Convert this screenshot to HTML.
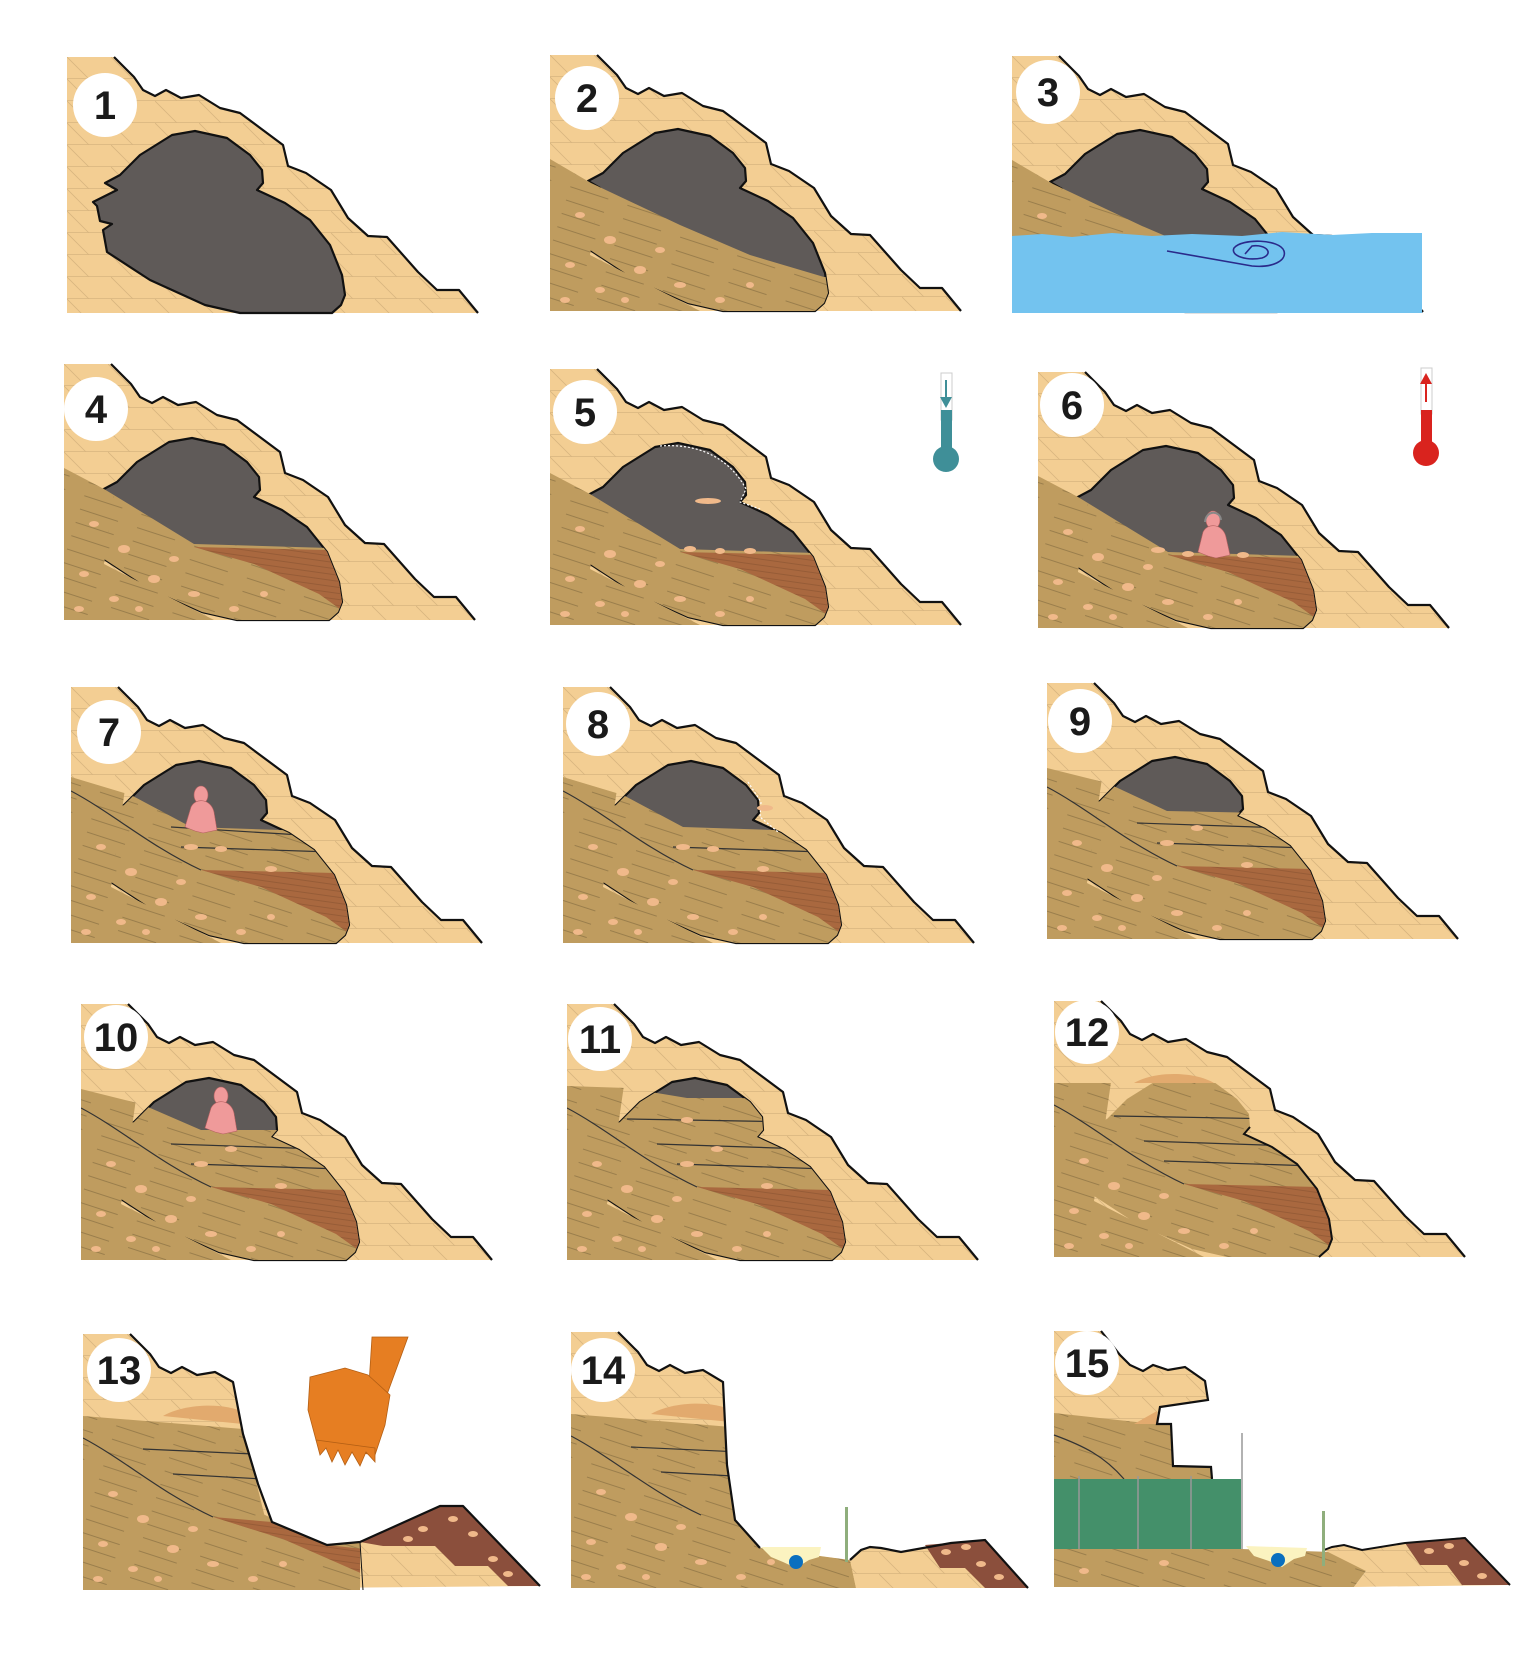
<!DOCTYPE html>
<html><head><meta charset="utf-8"><style>
html,body{margin:0;padding:0;background:#fff;}
svg{display:block;}
text{font-family:"Liberation Sans",sans-serif;font-weight:bold;font-size:40px;fill:#1a1a1a;}
</style></head><body>
<svg width="1519" height="1667" viewBox="0 0 1519 1667" xmlns="http://www.w3.org/2000/svg">
<defs>
<pattern id="ss" width="44" height="22" patternUnits="userSpaceOnUse">
<rect width="44" height="22" fill="#f3ce93"/>
<line x1="0" y1="21.5" x2="44" y2="21.5" stroke="#d8b57f" stroke-width="0.8"/>
<line x1="0" y1="0" x2="22" y2="22" stroke="#d8b57f" stroke-width="0.8"/>
</pattern>
<pattern id="sd" width="60" height="14" patternUnits="userSpaceOnUse" patternTransform="rotate(18)">
<rect width="60" height="14" fill="#bf9c5f"/>
<line x1="0" y1="7" x2="40" y2="7" stroke="#8e7446" stroke-width="0.7"/>
</pattern>
<pattern id="rd" width="40" height="6" patternUnits="userSpaceOnUse" patternTransform="rotate(8)">
<rect width="40" height="6" fill="#a9683f"/>
<line x1="0" y1="3" x2="40" y2="3" stroke="#84502f" stroke-width="0.6"/>
</pattern>
<g id="hill">
<polygon points="0,0 47,0 67,20 76,33 88,39 99,33 114,41 132,38 153,51 173,56 216,88 221,109 239,116 264,133 281,161 301,179 320,180 351,215 370,233 392,233 411,256 0,256" fill="url(#ss)"/>
</g>
<polyline id="hillo" points="47,0 67,20 76,33 88,39 99,33 114,41 132,38 153,51 173,56 216,88 221,109 239,116 264,133 281,161 301,179 320,180 351,215 370,233 392,233 411,256" fill="none" stroke="#111" stroke-width="2.2" stroke-linejoin="round"/>
<polygon id="cave" points="105,78 128,74 160,81 183,98 195,113 196,126 190,133 218,146 243,163 263,188 275,218 278,238 274,248 265,256 173,256 138,248 83,223 40,195 36,173 45,167 33,164 30,149 26,145 50,133 38,126 53,118 73,98" fill="#5f5a58" stroke="#111" stroke-width="2.2" stroke-linejoin="round"/>
<clipPath id="fc">
<polygon points="105,78 128,74 160,81 183,98 195,113 196,126 190,133 218,146 243,163 263,188 275,218 278,238 274,248 265,256 173,256 138,248 83,223 40,195 36,173 45,167 33,164 30,149 26,145 50,133 38,126 53,118 73,98"/>
<polygon points="0,0 60,60 50,130 40,200 150,256 0,256"/>
</clipPath>
<g id="peb" fill="#f0b98a">
<ellipse cx="30" cy="160" rx="5" ry="3"/><ellipse cx="60" cy="185" rx="6" ry="4"/><ellipse cx="20" cy="210" rx="5" ry="3"/>
<ellipse cx="90" cy="215" rx="6" ry="4"/><ellipse cx="50" cy="235" rx="5" ry="3"/><ellipse cx="130" cy="230" rx="6" ry="3"/>
<ellipse cx="110" cy="195" rx="5" ry="3"/><ellipse cx="15" cy="245" rx="5" ry="3"/><ellipse cx="170" cy="245" rx="5" ry="3"/>
<ellipse cx="200" cy="230" rx="4" ry="3"/><ellipse cx="75" cy="245" rx="4" ry="3"/>
</g>
</defs>

<!-- P1 -->
<g transform="translate(67,57)">
<use href="#hill"/><use href="#cave"/><use href="#hillo"/>
<circle cx="38" cy="48" r="32" fill="#fff"/><text x="38" y="62" text-anchor="middle">1</text>
</g>
<!-- P2 -->
<g transform="translate(550,55)">
<use href="#hill"/><use href="#cave"/>
<g clip-path="url(#fc)"><polygon points="0,104 41,128 130,170 200,200 274,222 411,222 411,256 0,256" fill="url(#sd)"/><use href="#peb"/></g>
<use href="#hillo"/>
<circle cx="37" cy="43" r="32" fill="#fff"/><text x="37" y="57" text-anchor="middle">2</text>
</g>
<!-- P3 -->
<g transform="translate(1012,56)">
<use href="#hill"/><use href="#cave"/>
<g clip-path="url(#fc)"><polygon points="0,104 41,128 130,170 200,200 274,222 411,222 411,256 0,256" fill="url(#sd)"/><use href="#peb"/></g>
<use href="#hillo"/>
<path d="M0,180 L30,178 60,181 100,177 140,180 180,178 230,180 270,176 320,179 360,177 410,177 L410,257 0,257Z" fill="#73c3ef"/>
<path d="M155,195 L240,210 C260,212 275,205 272,195 C268,183 230,182 222,192 C218,200 235,205 250,202 C262,198 255,188 240,190 L233,198" fill="none" stroke="#2a2a8a" stroke-width="1.6"/>
<circle cx="36" cy="36" r="32" fill="#fff"/><text x="36" y="50" text-anchor="middle">3</text>
</g>
<!-- P4 -->
<g transform="translate(64,364)">
<use href="#hill"/><use href="#cave"/>
<g clip-path="url(#fc)"><polygon points="0,104 40,125 130,180 265,184 411,184 411,256 0,256" fill="url(#sd)"/>
<polygon points="130,183 265,186 278,215 280,248 255,230 190,200" fill="url(#rd)"/><use href="#peb"/></g>
<use href="#hillo"/>
<circle cx="32" cy="45" r="32" fill="#fff"/><text x="32" y="59" text-anchor="middle">4</text>
</g>
<!-- P5 -->
<g transform="translate(550,369)">
<use href="#hill"/><use href="#cave"/>
<g clip-path="url(#fc)"><polygon points="0,104 40,125 130,180 265,184 411,184 411,256 0,256" fill="url(#sd)"/>
<polygon points="130,183 265,186 278,215 280,248 255,230 190,200" fill="url(#rd)"/><use href="#peb"/>
<g fill="#f0b98a"><ellipse cx="140" cy="180" rx="6" ry="3"/><ellipse cx="170" cy="182" rx="5" ry="3"/><ellipse cx="200" cy="182" rx="6" ry="3"/></g></g>
<use href="#hillo"/>
<path d="M110,77 C150,74 180,90 196,120 L190,133 210,140" fill="none" stroke="#fff" stroke-width="1.2" stroke-dasharray="2,2"/>
<ellipse cx="158" cy="132" rx="13" ry="3" fill="#f0b98a"/>
<circle cx="35" cy="43" r="32" fill="#fff"/><text x="35" y="57" text-anchor="middle">5</text>
</g>
<rect x="941" y="373" width="11" height="47" fill="#fff" stroke="#ccc" stroke-width="1"/>
<rect x="941" y="410" width="11" height="42" fill="#3f8f98"/>
<circle cx="946" cy="459" r="13" fill="#3f8f98"/>
<polygon points="940,397 952,397 946,408" fill="#3f8f98"/><line x1="946" y1="380" x2="946" y2="398" stroke="#3f8f98" stroke-width="2"/>
<!-- P6 -->
<g transform="translate(1038,372)">
<use href="#hill"/><use href="#cave"/>
<g clip-path="url(#fc)"><polygon points="0,104 40,125 130,180 265,184 411,184 411,256 0,256" fill="url(#sd)"/>
<polygon points="130,183 265,186 278,215 280,248 255,230 190,200" fill="url(#rd)"/><use href="#peb"/>
<g fill="#f0b98a"><ellipse cx="120" cy="178" rx="7" ry="3"/><ellipse cx="150" cy="182" rx="6" ry="3"/><ellipse cx="205" cy="183" rx="6" ry="3"/></g></g>
<use href="#hillo"/>
<g fill="#ef9a9a" stroke="#b36060" stroke-width="0.6"><ellipse cx="175" cy="148" rx="7" ry="9"/><path d="M165,160 C170,150 185,152 188,165 L192,183 178,186 170,184 160,180 Z"/></g>
<path d="M167,150 C168,138 182,138 183,148" fill="none" stroke="#888" stroke-width="2"/>
<circle cx="34" cy="33" r="32" fill="#fff"/><text x="34" y="47" text-anchor="middle">6</text>
</g>
<rect x="1421" y="368" width="11" height="46" fill="#fff" stroke="#ccc" stroke-width="1"/>
<rect x="1421" y="410" width="11" height="42" fill="#d9231e"/>
<circle cx="1426" cy="453" r="13" fill="#d9231e"/>
<polygon points="1420,384 1432,384 1426,373" fill="#d9231e"/><line x1="1426" y1="383" x2="1426" y2="402" stroke="#d9231e" stroke-width="2"/>

<!-- P7 -->
<g transform="translate(71,687)">
<use href="#hill"/><use href="#cave"/>
<g clip-path="url(#fc)"><polygon points="0,90 60,108 120,140 270,145 411,145 411,256 0,256" fill="url(#sd)"/>
<polygon points="130,183 265,186 278,215 280,248 255,230 190,200" fill="url(#rd)"/><use href="#peb"/>
<path d="M0,104 C40,125 80,160 130,183 M110,160 L260,165 M100,140 L230,148" fill="none" stroke="#333" stroke-width="1.2"/>
<g fill="#f0b98a"><ellipse cx="120" cy="160" rx="7" ry="3"/><ellipse cx="150" cy="162" rx="6" ry="3"/><ellipse cx="200" cy="182" rx="6" ry="3"/></g></g>
<use href="#hillo"/>
<g fill="#ef9a9a" stroke="#b36060" stroke-width="0.6"><ellipse cx="130" cy="108" rx="7" ry="9"/><path d="M120,120 C125,110 140,112 143,125 L146,143 132,146 124,144 114,140 Z"/></g>
<circle cx="38" cy="45" r="32" fill="#fff"/><text x="38" y="59" text-anchor="middle">7</text>
</g>
<!-- P8 -->
<g transform="translate(563,687)">
<use href="#hill"/><use href="#cave"/>
<g clip-path="url(#fc)"><polygon points="0,90 60,108 120,140 270,145 411,145 411,256 0,256" fill="url(#sd)"/>
<polygon points="130,183 265,186 278,215 280,248 255,230 190,200" fill="url(#rd)"/><use href="#peb"/>
<path d="M0,104 C40,125 80,160 130,183 M110,160 L260,165" fill="none" stroke="#333" stroke-width="1.2"/>
<g fill="#f0b98a"><ellipse cx="120" cy="160" rx="7" ry="3"/><ellipse cx="150" cy="162" rx="6" ry="3"/><ellipse cx="200" cy="182" rx="6" ry="3"/></g></g>
<use href="#hillo"/>
<path d="M185,95 L198,115 197,130 215,145" fill="none" stroke="#fff" stroke-width="1.2" stroke-dasharray="2,2"/>
<ellipse cx="202" cy="121" rx="8" ry="3" fill="#f0b98a"/>
<circle cx="35" cy="37" r="32" fill="#fff"/><text x="35" y="51" text-anchor="middle">8</text>
</g>
<!-- P9 -->
<g transform="translate(1047,683)">
<use href="#hill"/><use href="#cave"/>
<g clip-path="url(#fc)"><polygon points="0,85 60,100 120,128 270,131 411,131 411,256 0,256" fill="url(#sd)"/>
<polygon points="130,183 265,186 278,215 280,248 255,230 190,200" fill="url(#rd)"/><use href="#peb"/>
<path d="M0,104 C40,125 80,160 130,183 M110,160 L260,165 M90,140 L240,145" fill="none" stroke="#333" stroke-width="1.2"/>
<g fill="#f0b98a"><ellipse cx="120" cy="160" rx="7" ry="3"/><ellipse cx="150" cy="145" rx="6" ry="3"/><ellipse cx="200" cy="182" rx="6" ry="3"/></g></g>
<use href="#hillo"/>
<circle cx="33" cy="38" r="32" fill="#fff"/><text x="33" y="52" text-anchor="middle">9</text>
</g>
<!-- P10 -->
<g transform="translate(81,1004)">
<use href="#hill"/><use href="#cave"/>
<g clip-path="url(#fc)"><polygon points="0,85 60,100 120,126 270,126 411,126 411,256 0,256" fill="url(#sd)"/>
<polygon points="130,183 265,186 278,215 280,248 255,230 190,200" fill="url(#rd)"/><use href="#peb"/>
<path d="M0,104 C40,125 80,160 130,183 M110,160 L260,165 M90,140 L240,145" fill="none" stroke="#333" stroke-width="1.2"/>
<g fill="#f0b98a"><ellipse cx="120" cy="160" rx="7" ry="3"/><ellipse cx="150" cy="145" rx="6" ry="3"/><ellipse cx="200" cy="182" rx="6" ry="3"/></g></g>
<use href="#hillo"/>
<g fill="#ef9a9a" stroke="#b36060" stroke-width="0.6"><ellipse cx="140" cy="92" rx="7" ry="9"/><path d="M130,104 C135,94 150,96 153,109 L156,127 142,130 134,128 124,124 Z"/></g>
<circle cx="35" cy="33" r="32" fill="#fff"/><text x="35" y="47" text-anchor="middle">10</text>
</g>
<!-- P11 -->
<g transform="translate(567,1004)">
<use href="#hill"/><use href="#cave"/>
<g clip-path="url(#fc)"><polygon points="0,82 60,84 120,94 270,94 411,94 411,256 0,256" fill="url(#sd)"/>
<polygon points="130,183 265,186 278,215 280,248 255,230 190,200" fill="url(#rd)"/><use href="#peb"/>
<path d="M0,104 C40,125 80,160 130,183 M110,160 L260,165 M90,140 L240,145 M60,115 L230,118" fill="none" stroke="#333" stroke-width="1.2"/>
<g fill="#f0b98a"><ellipse cx="120" cy="160" rx="7" ry="3"/><ellipse cx="150" cy="145" rx="6" ry="3"/><ellipse cx="120" cy="116" rx="6" ry="3"/><ellipse cx="200" cy="182" rx="6" ry="3"/></g></g>
<use href="#hillo"/>
<circle cx="33" cy="35" r="32" fill="#fff"/><text x="33" y="49" text-anchor="middle">11</text>
</g>
<!-- P12 -->
<g transform="translate(1054,1001)">
<use href="#hill"/>
<g clip-path="url(#fc)"><polygon points="0,82 411,82 411,256 0,256" fill="url(#sd)"/>
<polygon points="130,183 265,186 278,215 280,248 255,230 190,200" fill="url(#rd)"/><use href="#peb"/>
<path d="M0,104 C40,125 80,160 130,183 M110,160 L260,165 M90,140 L240,145 M60,115 L230,118" fill="none" stroke="#333" stroke-width="1.2"/></g>
<path d="M80,82 C100,70 140,70 160,82 Z" fill="#e2aa6e"/>
<path d="M196,126 L190,133 218,146 243,163 263,188 275,218 278,238 274,248 265,256" fill="none" stroke="#111" stroke-width="2"/>
<use href="#hillo"/>
<circle cx="33" cy="31" r="32" fill="#fff"/><text x="33" y="45" text-anchor="middle">12</text>
</g>

<!-- P13 -->
<g transform="translate(83,1334)">
<clipPath id="h13"><polygon points="0,0 47,0 67,20 76,33 88,39 99,33 114,41 132,38 150,48 160,100 175,150 189,188 244,211 277,208 277,256 0,256"/></clipPath>
<polygon points="0,0 47,0 67,20 76,33 88,39 99,33 114,41 132,38 150,48 160,100 175,150 189,188 244,211 277,208 357,172 380,172 457,252 0,256" fill="url(#ss)"/>
<g clip-path="url(#h13)"><polygon points="0,82 100,90 160,95 200,256 0,256" fill="url(#sd)"/><polygon points="180,180 244,211 277,208 280,256 180,256" fill="url(#sd)"/>
<path d="M80,82 C100,70 140,68 160,78 L160,90 Z" fill="#e2aa6e"/>
<polygon points="130,183 189,188 244,211 280,215 280,240 200,205" fill="url(#rd)"/><use href="#peb"/>
<path d="M0,104 C40,125 80,160 130,183 M60,115 L170,120 M90,140 L180,145" fill="none" stroke="#333" stroke-width="1.2"/></g>
<polygon points="277,208 357,172 380,172 457,252 425,252 405,232 372,232 352,212 300,212" fill="#8b4f3c"/>
<g fill="#f0b98a"><ellipse cx="340" cy="195" rx="5" ry="3"/><ellipse cx="370" cy="185" rx="5" ry="3"/><ellipse cx="390" cy="200" rx="5" ry="3"/><ellipse cx="410" cy="225" rx="5" ry="3"/><ellipse cx="425" cy="240" rx="5" ry="3"/><ellipse cx="325" cy="205" rx="5" ry="3"/></g>
<polyline points="47,0 67,20 76,33 88,39 99,33 114,41 132,38 150,48 160,100 175,150 189,188 244,211 277,208 357,172 380,172 457,252" fill="none" stroke="#111" stroke-width="2.2" stroke-linejoin="round"/>
<line x1="277" y1="208" x2="280" y2="256" stroke="#111" stroke-width="1"/>
<circle cx="36" cy="36" r="32" fill="#fff"/><text x="36" y="50" text-anchor="middle">13</text>
</g>
<g fill="#e67e22" stroke="#b45f14" stroke-width="0.8">
<polygon points="372,1337 408,1337 385,1400 368,1400"/>
<polygon points="310,1377 345,1368 368,1375 390,1395 385,1425 375,1455 330,1448 316,1440 308,1410"/>
<polygon points="316,1440 320,1455 326,1448 332,1462 338,1450 345,1465 352,1452 360,1466 366,1452 375,1462 375,1448"/>
</g>
<!-- P14 -->
<g transform="translate(571,1332)">
<clipPath id="h14"><polygon points="0,0 47,0 67,20 76,33 88,39 99,33 114,41 132,38 152,50 156,133 164,188 189,216 279,228 285,256 0,256"/></clipPath>
<polygon points="0,0 47,0 67,20 76,33 88,39 99,33 114,41 132,38 152,50 156,133 164,188 189,216 279,228 290,218 299,215 310,216 330,220 380,211 414,208 457,256 0,256" fill="url(#ss)"/>
<g clip-path="url(#h14)"><polygon points="0,82 100,90 160,95 200,256 0,256" fill="url(#sd)"/><polygon points="150,200 189,216 279,228 285,256 150,256" fill="url(#sd)"/>
<path d="M80,82 C100,70 140,68 160,78 L160,90 Z" fill="#e2aa6e"/><use href="#peb"/>
<path d="M0,104 C40,125 80,160 130,183 M60,115 L170,120 M90,140 L180,145" fill="none" stroke="#333" stroke-width="1.2"/></g>
<polygon points="354,213 414,208 457,256 414,256 394,236 369,236" fill="#8b4f3c"/>
<g fill="#f0b98a"><ellipse cx="375" cy="220" rx="5" ry="3"/><ellipse cx="395" cy="215" rx="5" ry="3"/><ellipse cx="410" cy="232" rx="5" ry="3"/><ellipse cx="428" cy="245" rx="5" ry="3"/></g>
<polygon points="190,215 250,215 248,225 238,228 225,236 212,230 200,225" fill="#fbf3c0"/>
<circle cx="225" cy="230" r="7" fill="#0a6fbf"/>
<rect x="274" y="175" width="3" height="55" fill="#8fae7c"/>
<polyline points="47,0 67,20 76,33 88,39 99,33 114,41 132,38 152,50 156,133 164,188 189,216" fill="none" stroke="#111" stroke-width="2.2"/>
<polyline points="279,228 290,218 299,215 310,216 330,220 380,211 414,208 457,256" fill="none" stroke="#111" stroke-width="2.2"/>
<circle cx="32" cy="38" r="32" fill="#fff"/><text x="32" y="52" text-anchor="middle">14</text>
</g>
<!-- P15 -->
<g transform="translate(1054,1331)">
<polygon points="0,0 47,0 66,24 76,34 89,40 99,34 114,39 131,36 151,50 154,69 106,76 103,93 117,93 119,135 157,136 158,148 0,148" fill="url(#ss)"/>
<polygon points="0,82 100,93 103,93 117,93 119,135 157,136 158,148 0,148" fill="url(#sd)"/>
<path d="M80,93 L103,80 103,93Z" fill="#e2aa6e"/>
<path d="M0,104 C30,115 50,125 70,148" fill="none" stroke="#333" stroke-width="1.2"/>
<polyline points="47,0 66,24 76,34 89,40 99,34 114,39 131,36 151,50 154,69 106,76 103,93 117,93 119,135 157,136 158,148" fill="none" stroke="#111" stroke-width="2.2"/>
<rect x="0" y="148" width="187" height="70" fill="#44906a"/>
<g stroke="#999" stroke-width="1.5"><line x1="25" y1="145" x2="25" y2="220"/><line x1="84" y1="145" x2="84" y2="220"/><line x1="137" y1="145" x2="137" y2="220"/><line x1="188" y1="102" x2="188" y2="220"/></g>
<polygon points="0,218 187,218 310,222 312,240 300,256 0,256" fill="url(#sd)"/>
<polygon points="270,219 278,216 290,214 308,219 351,212 411,207 456,254 300,256 312,240" fill="url(#ss)"/>
<polygon points="351,212 411,206 456,254 408,254 393,234 366,234" fill="#8b4f3c"/>
<g fill="#f0b98a"><ellipse cx="375" cy="220" rx="5" ry="3"/><ellipse cx="395" cy="215" rx="5" ry="3"/><ellipse cx="410" cy="232" rx="5" ry="3"/><ellipse cx="428" cy="245" rx="5" ry="3"/><ellipse cx="30" cy="240" rx="5" ry="3"/><ellipse cx="110" cy="232" rx="5" ry="3"/></g>
<polyline points="270,219 278,216 290,214 308,219 351,212 411,207 456,254" fill="none" stroke="#111" stroke-width="2"/>
<polygon points="192,215 253,217 251,225 240,228 228,236 215,230 200,225" fill="#fbf3c0"/>
<circle cx="224" cy="229" r="7" fill="#0a6fbf"/>
<rect x="268" y="180" width="3" height="55" fill="#8fae7c"/>
<circle cx="33" cy="32" r="32" fill="#fff"/><text x="33" y="46" text-anchor="middle">15</text>
</g>
</svg>
</body></html>
